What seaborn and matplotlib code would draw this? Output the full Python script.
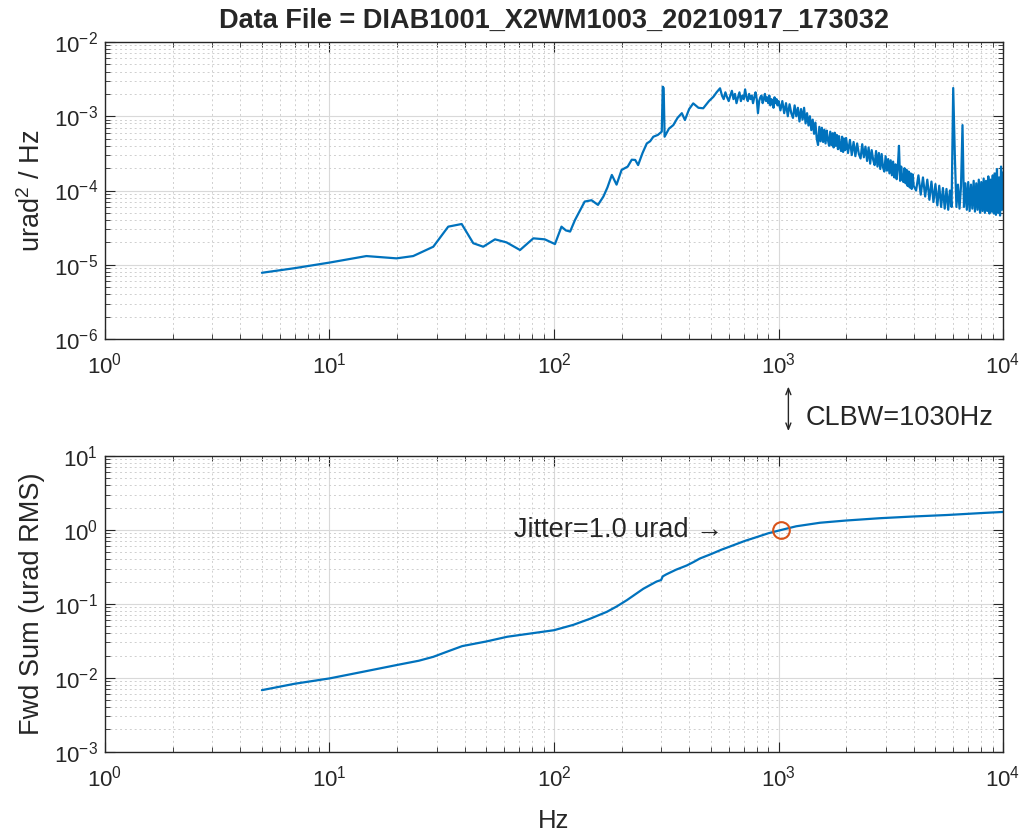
import pandas as pd
import seaborn as sns
import matplotlib
matplotlib.use('Agg')
import matplotlib.pyplot as plt
from matplotlib import ticker
from matplotlib import transforms

# PSD (Hz, urad^2/Hz)
# low part, read point by point
psd_freq_low = [5, 7, 10, 14.6, 19.9, 23.6, 29, 33.8, 38.8, 43.7, 48.4, 54.6, 61.5, 70.6,
                80.9, 91, 101, 108, 113, 118, 124, 131, 137, 147, 157, 166, 173, 181,
                190, 200, 213, 222, 230, 237, 248, 259, 268, 277, 290, 302, 305, 308,
                311, 325, 340, 355, 371, 383, 400, 417, 440, 462, 490, 513, 530, 549]
psd_low = [7.8e-6, 9.0e-6, 1.07e-5, 1.31e-5, 1.22e-5, 1.31e-5, 1.75e-5, 3.26e-5, 3.54e-5,
           1.95e-5, 1.75e-5, 2.2e-5, 2.0e-5, 1.58e-5, 2.27e-5, 2.2e-5, 1.9e-5, 3.26e-5,
           2.9e-5, 2.8e-5, 4.0e-5, 5.5e-5, 7.1e-5, 7.4e-5, 6.4e-5, 8.3e-5, 1.1e-4,
           1.62e-4, 1.2e-4, 1.89e-4, 2.1e-4, 2.6e-4, 2.58e-4, 2.2e-4, 3.2e-4, 4.3e-4,
           4.6e-4, 5.3e-4, 5.6e-4, 6.2e-4, 2.5e-3, 2.4e-3, 5.3e-4, 6.8e-4, 7.6e-4,
           9.5e-4, 1.1e-3, 8.9e-4, 1.25e-3, 1.49e-3, 1.3e-3, 1.28e-3, 1.6e-3, 1.83e-3,
           2.1e-3, 2.38e-3]

# noisy upper part, read band top / bottom along the fft bin grid
psd_freq_a = list(range(560, 1001, 10))
psd_a = [19e-4, 17e-4, 21e-4, 18e-4, 16e-4, 19e-4, 22e-4, 17e-4, 20e-4, 15e-4,
         18e-4, 21e-4, 16e-4, 19e-4, 17e-4, 23e-4, 18e-4, 16e-4, 20e-4, 17e-4,
         19e-4, 15e-4, 18e-4, 21e-4, 17e-4, 11e-4, 16e-4, 18e-4, 19e-4, 15e-4,
         17e-4, 20e-4, 16e-4, 18e-4, 15e-4, 19e-4, 14e-4, 17e-4, 16e-4, 13e-4,
         18e-4, 15e-4, 17e-4, 14e-4, 16e-4]
psd_freq_b = list(range(1020, 2001, 20))
psd_b = [12e-4, 16e-4, 11e-4, 15e-4, 10e-4, 14.5e-4, 11e-4, 9.5e-4, 14e-4, 10e-4,
         13e-4, 8.5e-4, 12.5e-4, 9e-4, 13e-4, 8e-4, 11e-4, 7.5e-4, 10e-4, 6.5e-4,
         9e-4, 5.8e-4, 8.2e-4, 5.0e-4, 4.1e-4, 7.2e-4, 4.6e-4, 7.0e-4, 4.5e-4, 6.6e-4,
         4.3e-4, 6.4e-4, 4.8e-4, 4.0e-4, 6.2e-4, 4.1e-4, 5.9e-4, 3.8e-4, 6.0e-4, 4.0e-4,
         5.6e-4, 3.6e-4, 5.4e-4, 3.8e-4, 3.4e-4, 5.3e-4, 3.3e-4, 5.0e-4, 3.5e-4, 5.1e-4]
psd_freq_c = list(range(2040, 4001, 40))
psd_c = [3.2e-4, 4.8e-4, 3.0e-4, 4.5e-4, 2.9e-4, 4.3e-4, 3.1e-4, 2.7e-4, 4.2e-4, 2.8e-4,
         3.9e-4, 2.5e-4, 3.8e-4, 2.3e-4, 3.5e-4, 2.6e-4, 2.2e-4, 3.4e-4, 2.1e-4, 3.2e-4,
         1.95e-4, 3.1e-4, 2.05e-4, 1.8e-4, 2.9e-4, 1.85e-4, 2.65e-4, 1.7e-4, 2.55e-4, 1.6e-4,
         2.45e-4, 1.5e-4, 2.25e-4, 1.42e-4, 2.1e-4, 4.0e-4, 1.35e-4, 2.1e-4, 1.4e-4, 1.3e-4,
         2.0e-4, 1.25e-4, 1.9e-4, 1.15e-4, 1.8e-4, 1.1e-4, 1.7e-4, 1.05e-4, 1.65e-4, 1.15e-4]
psd_freq_d = list(range(4100, 10001, 100))
psd_d = [1.0e-4, 1.6e-4, 0.88e-4, 1.5e-4, 0.83e-4, 1.4e-4, 0.75e-4, 1.32e-4, 0.7e-4, 1.22e-4,
         0.63e-4, 1.16e-4, 0.6e-4, 1.08e-4, 0.57e-4, 1.05e-4, 0.55e-4, 1.0e-4, 0.6e-4, 24e-4,
         3.0e-4, 0.6e-4, 1.2e-4, 0.57e-4, 1.15e-4, 7.6e-4, 0.6e-4, 1.25e-4, 0.55e-4, 1.3e-4,
         0.53e-4, 1.2e-4, 0.57e-4, 1.35e-4, 0.52e-4, 1.25e-4, 0.55e-4, 1.4e-4, 0.5e-4, 1.3e-4,
         0.53e-4, 1.45e-4, 0.5e-4, 1.35e-4, 0.53e-4, 1.55e-4, 0.49e-4, 1.4e-4, 0.52e-4, 1.6e-4,
         0.49e-4, 1.7e-4, 0.47e-4, 1.95e-4, 0.5e-4, 1.5e-4, 0.46e-4, 2.1e-4, 0.55e-4, 1.75e-4]

# forward cumulative RMS (Hz, urad RMS)
fwd_freq = [5, 7, 10, 14, 20, 25, 29, 34, 39, 50, 62, 80, 100, 122, 145, 172, 190, 211,
            250, 286, 300, 305, 316, 350, 390, 420, 446, 500, 557, 620, 708, 800, 900,
            1030, 1200, 1530, 2000, 2830, 4000, 5610, 8300, 10000]
fwd_rms = [6.8e-3, 8.3e-3, 9.8e-3, 1.2e-2, 1.49e-2, 1.7e-2, 1.92e-2, 2.3e-2, 2.68e-2,
           3.1e-2, 3.59e-2, 4.0e-2, 4.4e-2, 5.2e-2, 6.3e-2, 7.8e-2, 9.2e-2, 0.112,
           0.16, 0.20, 0.21, 0.235, 0.25, 0.29, 0.33, 0.37, 0.41, 0.47, 0.54, 0.61,
           0.71, 0.80, 0.90, 1.0, 1.12, 1.25, 1.34, 1.44, 1.52, 1.59, 1.70, 1.75]

clbw = 1030        # Hz
jitter = 1.0       # urad RMS at clbw
data_file = 'DIAB1001_X2WM1003_20210917_173032'

psd_df = pd.DataFrame({'Hz': psd_freq_low + psd_freq_a + psd_freq_b + psd_freq_c + psd_freq_d,
                       'psd': psd_low + psd_a + psd_b + psd_c + psd_d})
fwd_df = pd.DataFrame({'Hz': fwd_freq, 'rms': fwd_rms})

sns.set_style('ticks')
plt.rcParams['font.family'] = ['Liberation Sans', 'DejaVu Sans']
plt.rcParams['mathtext.fontset'] = 'custom'
plt.rcParams['mathtext.rm'] = 'Liberation Sans'
plt.rcParams['mathtext.it'] = 'Liberation Sans:italic'
plt.rcParams['mathtext.default'] = 'regular'

AX_COL = '#262626'
BLUE = '#0072BD'
ORANGE = '#D95319'

fig = plt.figure(figsize=(10.26, 8.33), dpi=100)
ax1 = fig.add_axes([0.1023, 0.5930, 0.8753, 0.3566])
ax2 = fig.add_axes([0.1023, 0.0976, 0.8753, 0.3550])


def style_axis(ax, ylo, yhi):
    """matlab-ish log-log axis look"""
    ax.set_xscale('log')
    ax.set_yscale('log')
    ax.set_xlim(1, 1e4)
    ax.set_ylim(ylo, yhi)
    ax.xaxis.set_major_locator(ticker.LogLocator(base=10, numticks=10))
    ax.yaxis.set_major_locator(ticker.LogLocator(base=10, numticks=10))
    ax.xaxis.set_minor_locator(ticker.LogLocator(base=10, subs=range(2, 10), numticks=20))
    ax.yaxis.set_minor_locator(ticker.LogLocator(base=10, subs=range(2, 10), numticks=20))
    ax.xaxis.set_minor_formatter(ticker.NullFormatter())
    ax.yaxis.set_minor_formatter(ticker.NullFormatter())
    ax.grid(True, which='major', color='#d9d9d9', linewidth=0.8, linestyle='-')
    ax.grid(True, which='minor', color='#cfcfcf', linewidth=0.7, linestyle=(0, (2, 3)))
    ax.set_axisbelow(True)
    ax.tick_params(which='both', direction='in', top=True, right=True, colors=AX_COL,
                   labelsize=16)
    ax.tick_params(which='major', length=7, width=0.8)
    ax.tick_params(which='minor', length=3.5, width=0.6)
    ax.tick_params(axis='x', pad=10)
    ax.tick_params(axis='y', pad=5)
    for sp in ax.spines.values():
        sp.set_color(AX_COL)
        sp.set_linewidth(1.0)


style_axis(ax1, 1e-6, 1e-2)
style_axis(ax2, 1e-3, 1e1)

sns.lineplot(data=psd_df, x='Hz', y='psd', ax=ax1, color=BLUE, linewidth=1.6,
             sort=False, estimator=None)
sns.lineplot(data=fwd_df, x='Hz', y='rms', ax=ax2, color=BLUE, linewidth=1.6,
             sort=False, estimator=None)
ax2.plot([clbw], [jitter], 'o', mfc='none', mec=ORANGE, mew=1.5, ms=12)

ax1.set_title('Data File = ' + data_file, fontsize=19.5, fontweight='bold', pad=10)
ax1.set_xlabel('')
ax1.set_ylabel('urad$^2$ / Hz', fontsize=19.5, color=AX_COL, va='center')
ax1.yaxis.set_label_coords(-0.081, 0.5)
ax2.set_ylabel('Fwd Sum (urad RMS)', fontsize=19.5, color=AX_COL, va='center')
ax2.yaxis.set_label_coords(-0.081, 0.5)
ax2.set_xlabel('Hz', fontsize=18.5, color=AX_COL, va='top')
ax2.xaxis.set_label_coords(0.5, -0.193)

# closed loop bandwidth marker under the top panel
blend = transforms.blended_transform_factory(ax1.transData, ax1.transAxes)
arrow_tr = transforms.offset_copy(blend, fig=fig, x=7, y=0, units='dots')
ax1.annotate('', xy=(clbw, -0.160), xycoords=arrow_tr, xytext=(clbw, -0.310),
             textcoords=arrow_tr, annotation_clip=False,
             arrowprops=dict(arrowstyle='<->, head_length=0.45, head_width=0.18',
                             color=AX_COL, lw=1.0, shrinkA=0, shrinkB=0))
ax1.annotate('CLBW=%dHz' % clbw, xy=(clbw, -0.267), xycoords=blend,
             xytext=(24, 0), textcoords='offset pixels', ha='left', va='center',
             fontsize=19.5, color=AX_COL, annotation_clip=False)

ax2.annotate('Jitter=%.1f urad \u2192' % jitter, xy=(clbw, jitter), xytext=(-58, 0),
             textcoords='offset pixels', ha='right', va='center', fontsize=19.5,
             color=AX_COL)

plt.savefig('out.png', dpi=100)
plt.close(fig)
